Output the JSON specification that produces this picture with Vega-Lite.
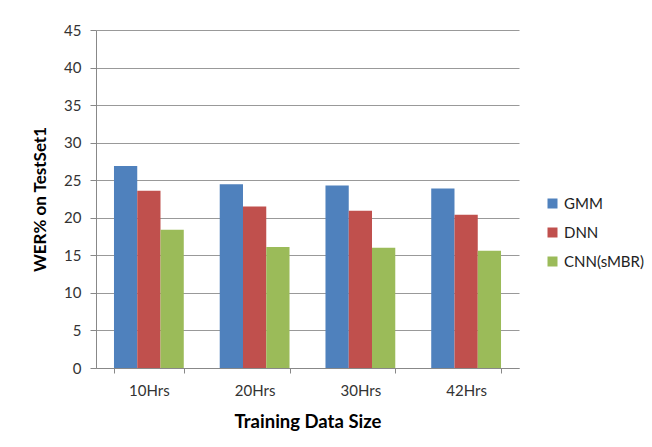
{
  "$schema": "https://vega.github.io/schema/vega-lite/v6.json",
  "width": 423,
  "height": 338,
  "autosize": {"type": "none"},
  "padding": {"left": 96, "top": 30, "right": 133, "bottom": 79},
  "background": "white",
  "data": {
    "values": [
      {"size": "10Hrs", "model": "GMM", "wer": 26.9},
      {"size": "10Hrs", "model": "DNN", "wer": 23.6},
      {"size": "10Hrs", "model": "CNN(sMBR)", "wer": 18.4},
      {"size": "20Hrs", "model": "GMM", "wer": 24.45},
      {"size": "20Hrs", "model": "DNN", "wer": 21.5},
      {"size": "20Hrs", "model": "CNN(sMBR)", "wer": 16.1},
      {"size": "30Hrs", "model": "GMM", "wer": 24.3},
      {"size": "30Hrs", "model": "DNN", "wer": 20.95},
      {"size": "30Hrs", "model": "CNN(sMBR)", "wer": 16.0},
      {"size": "42Hrs", "model": "GMM", "wer": 23.9},
      {"size": "42Hrs", "model": "DNN", "wer": 20.4},
      {"size": "42Hrs", "model": "CNN(sMBR)", "wer": 15.6}
    ]
  },
  "mark": {"type": "bar"},
  "encoding": {
    "x": {
      "field": "size",
      "type": "nominal",
      "sort": null,
      "scale": {"paddingInner": 0.34, "paddingOuter": 0.17},
      "axis": {
        "title": "Training Data Size",
        "labelAngle": 0,
        "tickBand": "extent",
        "tickSize": 5,
        "labelPadding": 10,
        "titlePadding": 14,
        "labelFontSize": 15,
        "titleFontSize": 18.5
      }
    },
    "xOffset": {
      "field": "model",
      "type": "nominal",
      "sort": ["GMM", "DNN", "CNN(sMBR)"],
      "scale": {"paddingInner": 0, "paddingOuter": 0}
    },
    "y": {
      "field": "wer",
      "type": "quantitative",
      "scale": {"domain": [0, 45], "nice": false},
      "axis": {
        "title": "WER% on TestSet1",
        "values": [0, 5, 10, 15, 20, 25, 30, 35, 40, 45],
        "tickSize": 6,
        "labelPadding": 9,
        "titlePadding": 14,
        "labelFontSize": 15,
        "titleFontSize": 17,
        "grid": true
      }
    },
    "color": {
      "field": "model",
      "type": "nominal",
      "sort": ["GMM", "DNN", "CNN(sMBR)"],
      "scale": {
        "domain": ["GMM", "DNN", "CNN(sMBR)"],
        "range": ["#4F81BD", "#C0504D", "#9BBB59"]
      },
      "legend": {
        "title": null,
        "orient": "none",
        "legendX": 449,
        "legendY": 166,
        "symbolType": "square",
        "symbolSize": 100,
        "symbolStrokeWidth": 0,
        "labelFontSize": 15,
        "labelOffset": 4,
        "rowPadding": 13
      }
    }
  },
  "config": {
    "font": "Lato",
    "view": {"stroke": null},
    "axis": {
      "domainColor": "#888888",
      "tickColor": "#888888",
      "gridColor": "#999999",
      "labelColor": "#333333",
      "titleColor": "#000000",
      "titleFontWeight": "bold",
      "labelFont": "Lato",
      "titleFont": "Lato"
    },
    "legend": {"labelColor": "#222222", "labelFont": "Lato"}
  }
}
